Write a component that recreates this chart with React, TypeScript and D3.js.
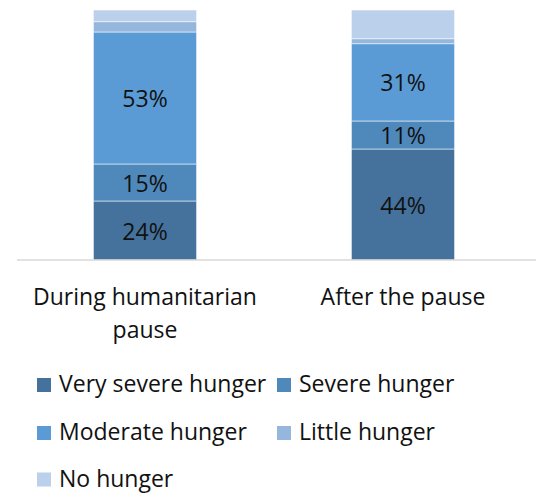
import React from "react";
import * as d3 from "d3";

const categories = ["During humanitarian pause", "After the pause"];
const categoryLines = [["During humanitarian", "pause"], ["After the pause"]];
const seriesNames = ["Very severe hunger", "Severe hunger", "Moderate hunger", "Little hunger", "No hunger"];
const verySevere = [23.6, 44.4];
const severe = [14.8, 11.2];
const moderate = [52.8, 30.9];
const little = [4.1, 2.0];
const noHunger = [4.7, 11.5];
const labelledSeries = ["Very severe hunger", "Severe hunger", "Moderate hunger"];
const colors = ["#44729d", "#4f88bb", "#5b9bd5", "#95b7de", "#bbd0ea"];

const W = 536;
const H = 493;
const FONT = "'Open Sans', 'Noto Sans', sans-serif";
const FS = 23;

export default function App() {
  const valuesBySeries = [verySevere, severe, moderate, little, noHunger];
  const table = categories.map((c, i) => {
    const row: any = { category: c };
    seriesNames.forEach((s, j) => (row[s] = valuesBySeries[j][i]));
    return row;
  });
  const stacked = d3.stack<any>().keys(seriesNames)(table);

  const x = d3.scaleBand<string>().domain(categories).range([16, 532]).paddingInner(0.6).paddingOuter(0.3);
  const y = d3.scaleLinear().domain([0, 100]).range([260, 10]);

  const legendPos = [
    [37, 378],
    [277, 378],
    [37, 426],
    [277, 426],
    [37, 472.5],
  ];

  return (
    <svg width={W} height={H} style={{ position: "absolute", left: 0, top: 0, background: "#fff" }} fontFamily={FONT}>
      {stacked.map((layer, si) => (
        <g key={layer.key}>
          {layer.map((d, ci) => {
            const x0 = x(categories[ci])!;
            const y0 = y(d[1]);
            const h = y(d[0]) - y(d[1]);
            const v = d[1] - d[0];
            return (
              <g key={ci}>
                <rect x={x0} y={y0} width={x.bandwidth()} height={h} fill={colors[si]} stroke="#ffffff" strokeWidth={0.75} strokeOpacity={0.7} />
                {labelledSeries.includes(layer.key) && (
                  <text x={x0 + x.bandwidth() / 2} y={y0 + h / 2 + 9} textAnchor="middle" fontSize={FS} fill="#111">
                    {Math.round(v)}%
                  </text>
                )}
              </g>
            );
          })}
        </g>
      ))}
      <line x1={17} x2={536} y1={260} y2={260} stroke="#d9d9d9" strokeWidth={1.5} />
      {categories.map((c, i) => (
        <text key={c} textAnchor="middle" fontSize={FS} fill="#111">
          {categoryLines[i].map((line, li) => (
            <tspan key={li} x={x(c)! + x.bandwidth() / 2} y={304.5 + li * 33}>
              {line}
            </tspan>
          ))}
        </text>
      ))}
      {seriesNames.map((s, i) => (
        <g key={s}>
          <rect x={legendPos[i][0]} y={legendPos[i][1]} width={14} height={14} fill={colors[i]} />
          <text x={legendPos[i][0] + 22} y={legendPos[i][1] + 14} fontSize={FS} fill="#111">
            {s}
          </text>
        </g>
      ))}
    </svg>
  );
}
